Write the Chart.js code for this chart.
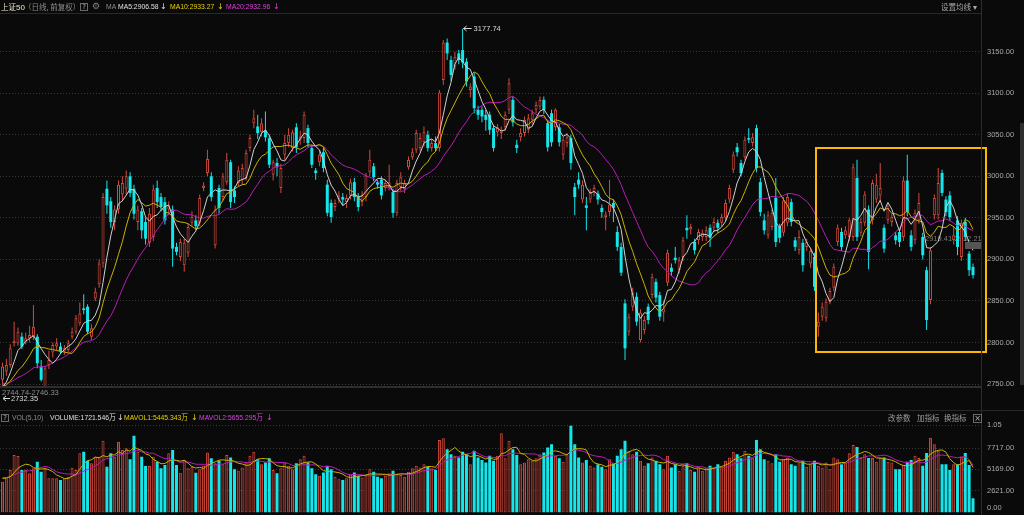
<!DOCTYPE html>
<html><head><meta charset="utf-8">
<title>上证50</title>
<script src="https://cdn.jsdelivr.net/npm/chart.js@4/dist/chart.umd.min.js"></script>
<style>
html,body{margin:0;padding:0;background:#0a0a0a;overflow:hidden}
body{width:1024px;height:515px;position:relative;font-family:"Liberation Sans","Noto Sans CJK SC",sans-serif}
canvas{position:absolute;left:0}
.t{position:absolute;white-space:nowrap;font-size:8px;line-height:10px;transform-origin:0 50%;transform:scaleX(0.85);font-family:"Liberation Sans","Noto Sans CJK SC",sans-serif}
.c{position:absolute;white-space:nowrap;font-family:"Noto Sans CJK SC",sans-serif;font-size:7.5px;line-height:10px}
.a{position:absolute;white-space:nowrap;font-family:"DejaVu Sans",sans-serif;font-size:8px;line-height:10px}
.ln{position:absolute;background:#282828}
.box{position:absolute;border:1px solid #6a6a6a;color:#b0b0b0;font-size:7px;line-height:7px;text-align:center;box-sizing:border-box;font-family:"DejaVu Sans",sans-serif}
</style></head><body>
<canvas id="pc" width="1024" height="405" style="top:0"></canvas>
<canvas id="vc" width="1024" height="115" style="top:410px"></canvas>

<div class="ln" style="left:0;top:13px;width:981px;height:1px"></div>
<div class="ln" style="left:981px;top:0;width:1px;height:515px;background:#2c2c2c"></div>
<div class="ln" style="left:0;top:386px;width:981px;height:2px;background:#2e2e2e"></div>
<div class="ln" style="left:0;top:410px;width:1024px;height:1px"></div>
<div class="ln" style="left:1020px;top:123px;width:4px;height:262px;background:#2e2e2e"></div>

<div class="c" style="left:1px;top:2px;color:#e8e4c8">上证<span style="font-family:'Liberation Sans';font-size:8px">50</span></div>
<div class="c" style="left:24px;top:2px;color:#8c8c8c">（日线, 前复权）</div>
<div class="box" style="left:80px;top:3px;width:8px;height:8px">?</div>
<div class="a" style="left:92px;top:1px;color:#808080;font-size:9px">⚙</div>
<div class="t" style="left:106px;top:2px;color:#8c8c8c">MA</div>
<div class="t" style="left:118px;top:2px;color:#e0e0e0">MA5:2906.58</div>
<div class="a" style="left:160px;top:2px;color:#e0e0e0">↓</div>
<div class="t" style="left:170px;top:2px;color:#e8d400">MA10:2933.27</div>
<div class="a" style="left:217px;top:2px;color:#e8d400">↓</div>
<div class="t" style="left:226px;top:2px;color:#e040e0">MA20:2932.96</div>
<div class="a" style="left:273px;top:2px;color:#e040e0">↓</div>
<div class="c" style="left:941px;top:2px;color:#a8a8a8">设置均线 ▾</div>

<div class="box" style="left:1px;top:414px;width:8px;height:8px">?</div>
<div class="t" style="left:12px;top:413px;color:#8c8c8c">VOL(5,10)</div>
<div class="t" style="left:50px;top:413px;color:#e0e0e0">VOLUME:1721.546万</div>
<div class="a" style="left:117px;top:413px;color:#e0e0e0">↓</div>
<div class="t" style="left:124px;top:413px;color:#e8d400">MAVOL1:5445.343万</div>
<div class="a" style="left:191px;top:413px;color:#e8d400">↓</div>
<div class="t" style="left:199px;top:413px;color:#e040e0">MAVOL2:5655.295万</div>
<div class="a" style="left:266px;top:413px;color:#e040e0">↓</div>
<div class="c" style="left:888px;top:413px;color:#9c9c9c">改参数</div>
<div class="c" style="left:917px;top:413px;color:#9c9c9c">加指标</div>
<div class="c" style="left:944px;top:413px;color:#9c9c9c">换指标</div>
<div class="box" style="left:973px;top:414px;width:9px;height:9px;font-size:8px;line-height:7px">×</div>

<script>
// ---------- data ----------
const priceTicks = [2750, 2800, 2850, 2900, 2950, 3000, 3050, 3100, 3150];
const volTicks = [2621, 5169, 7717, 10500];

const opens = [
2755,2765,2773,2799,2799,2807,2801,2805,2807,2807,
2771,2746,2773,2788,2795,2795,2789,2791,2807,2813,
2823,2841,2843,2807,2853,2870,2895,2985,2970,2945,
2960,2978,2985,3000,2985,2945,2958,2945,2920,2927,
2986,2975,2969,2960,2960,2915,2903,2893,2908,2944,
2947,2944,2986,3004,3000,2917,2986,2975,2993,3017,
2983,2992,2996,2998,3034,3064,3060,3053,3055,3046,
3002,3016,2986,3026,3040,3034,3059,3044,3046,3058,
3034,3007,3017,3029,2990,2968,2963,2972,2975,2969,
2977,2993,2975,2969,2975,3005,3012,2993,2996,2986,
2987,2981,2956,2987,2984,3011,3023,3032,3034,3041,
3050,3034,3040,3034,3116,3161,3140,3132,3148,3152,
3138,3104,3120,3080,3080,3074,3074,3058,3053,3052,
3059,3080,3092,3038,3047,3052,3056,3068,3080,3084,
3092,3064,3076,3059,3059,3026,3040,3046,2987,2996,
2972,2965,2972,2981,2979,2962,2951,2957,2968,2933,
2915,2847,2813,2843,2855,2803,2815,2843,2857,2873,
2857,2836,2872,2890,2902,2887,2903,2938,2936,2921,
2923,2927,2927,2938,2938,2944,2944,2950,2972,3008,
3035,3016,3023,3046,3040,3058,2993,2947,2929,2939,
2974,2939,2932,2944,2969,2923,2911,2920,2915,2895,
2903,2819,2831,2829,2850,2866,2921,2933,2929,2927,
2927,2998,2932,2944,2960,2947,2972,2977,2938,2947,
2945,2929,2933,2927,2995,2929,2923,2947,2927,2887,
2851,2953,2953,3004,2972,2977,2923,2947,2903,2945,
2907,2891];

const highs = [
2776,2780,2798,2825,2818,2812,2812,2820,2845,2810,
2779,2772,2790,2800,2805,2800,2797,2803,2818,2833,
2848,2858,2846,2822,2866,2900,2980,2995,2975,2965,
2995,3000,3007,3005,2990,2965,2962,2950,2962,2990,
2995,2980,2975,2970,2965,2920,2925,2925,2943,2958,
2953,2978,2993,3032,3005,2965,2990,3004,3028,3020,
2988,3012,3015,3032,3050,3080,3074,3070,3078,3050,
3020,3022,3015,3050,3058,3056,3064,3055,3078,3062,
3038,3010,3032,3034,2996,2972,2972,2982,2980,2978,
2997,2998,2980,2982,3004,3032,3016,2996,3000,2996,
3014,2985,2996,3005,2996,3024,3034,3056,3052,3060,
3055,3045,3048,3104,3164,3166,3145,3150,3152,3177.74,
3142,3112,3125,3085,3084,3080,3078,3062,3063,3060,
3078,3118,3096,3044,3058,3072,3075,3080,3090,3096,
3096,3068,3080,3082,3063,3048,3052,3050,2992,3005,
2995,2975,2985,2990,2983,2966,2958,2996,2972,2940,
2920,2852,2835,2866,2860,2840,2832,2847,2883,2877,
2861,2850,2912,2895,2915,2903,2927,2953,2943,2925,
2937,2936,2940,2942,2950,2948,2955,2972,2990,3030,
3040,3020,3048,3058,3052,3062,2998,2955,2958,2960,
2998,2943,2975,2980,2973,2927,2935,2925,2925,2914,
2908,2836,2848,2853,2866,2895,2942,2938,2940,2950,
3015,3020,2950,2982,2965,2996,3003,3016,2942,2966,
2955,2933,2937,3000,3026,2935,2960,2980,2932,2891,
2915,2978,3010,3008,2976,2982,2940,2952,2948,2950,
2910,2895];

const lows = [
2732.35,2760,2770,2795,2796,2792,2798,2800,2803,2769,
2753,2744,2768,2782,2790,2786,2785,2788,2804,2810,
2820,2834,2810,2803,2850,2866,2890,2955,2938,2935,
2955,2970,2978,2975,2948,2935,2925,2918,2915,2922,
2962,2958,2942,2953,2891,2905,2898,2885,2903,2940,
2935,2940,2982,3000,2970,2913,2955,2970,2990,2962,
2968,2988,2990,2995,3030,3058,3045,3048,3042,3010,
2995,3000,2980,3020,3035,3030,3028,3038,3040,3035,
3010,2996,3012,3005,2952,2944,2958,2968,2965,2962,
2972,2970,2958,2964,2970,3000,2994,2985,2972,2982,
2983,2950,2952,2982,2980,3008,3020,3028,3030,3036,
3030,3030,3030,3030,3110,3140,3115,3128,3135,3130,
3108,3095,3076,3068,3065,3055,3050,3030,3048,3045,
3055,3075,3060,3028,3042,3048,3052,3062,3076,3080,
3075,3030,3036,3055,3036,3020,3035,3008,2953,2985,
2968,2935,2968,2976,2966,2950,2935,2952,2945,2910,
2880,2779,2808,2838,2820,2800,2810,2822,2853,2848,
2826,2825,2868,2880,2895,2883,2898,2925,2930,2906,
2918,2922,2922,2915,2933,2932,2940,2946,2968,3004,
3024,3000,3020,3040,3036,3005,2952,2930,2925,2935,
2915,2920,2928,2940,2940,2910,2906,2885,2910,2890,
2862,2807,2826,2825,2846,2862,2916,2910,2925,2922,
2922,2922,2928,2940,2888,2942,2968,2970,2908,2943,
2940,2918,2915,2922,2952,2910,2918,2943,2900,2815,
2846,2948,2948,2976,2952,2946,2918,2905,2898,2922,
2880,2877];

const closes = [
2771,2773,2793,2802,2813,2795,2805,2809,2819,2775,
2755,2769,2779,2797,2799,2789,2793,2799,2813,2829,
2835,2839,2813,2817,2861,2895,2975,2965,2945,2960,
2990,2992,3000,2980,2955,2960,2935,2925,2955,2984,
2969,2963,2947,2964,2913,2909,2921,2920,2939,2951,
2940,2974,2989,3021,2975,2960,2962,3000,3020,2969,
2975,3007,3010,3028,3046,3070,3052,3064,3047,3014,
3017,3011,3010,3040,3050,3053,3035,3048,3074,3040,
3014,3004,3026,3010,2956,2951,2968,2977,2972,2974,
2993,2975,2963,2977,3001,3020,2999,2990,2977,2992,
2993,2956,2992,2999,2992,3020,3029,3052,3046,3053,
3034,3040,3034,3101,3161,3148,3122,3144,3140,3137,
3114,3108,3082,3074,3072,3068,3056,3034,3059,3056,
3074,3112,3065,3034,3052,3068,3070,3076,3086,3092,
3080,3035,3041,3080,3041,3044,3047,3016,2975,2990,
2990,2962,2981,2986,2972,2957,2954,2966,2962,2915,
2884,2793,2831,2860,2825,2836,2827,2827,2879,2854,
2831,2841,2908,2885,2899,2899,2923,2935,2939,2911,
2933,2932,2935,2926,2945,2938,2951,2968,2986,3026,
3029,3004,3044,3044,3047,3010,2957,2935,2953,2956,
2921,2926,2971,2975,2945,2915,2927,2893,2921,2910,
2867,2825,2843,2849,2862,2891,2938,2915,2935,2947,
3011,2927,2945,2978,2909,2992,2990,2986,2913,2962,
2951,2923,2921,2995,2957,2915,2956,2968,2905,2827,
2911,2974,2992,2980,2957,2951,2929,2915,2944,2927,
2887,2881];

// volume in 万
const volumes = [
3700,4100,5100,6900,6780,5100,5100,4700,5300,6100,
4900,5300,4100,4100,4100,3900,4100,4300,5380,5100,
7100,7300,6220,5900,6700,6700,8620,5500,7100,6700,
8500,7500,7700,6380,9220,7300,6700,5580,5580,6700,
6100,5300,5700,7100,7500,5700,4780,6300,5300,5500,
4780,5200,5600,7200,6500,5900,6200,5800,6900,6600,
5200,5000,5400,6100,6800,7300,6400,5800,6000,6500,
5100,4700,5300,6000,5600,5200,5900,6400,6800,6000,
5300,4600,4400,4800,5600,5200,4300,4000,3900,4100,
4600,4800,4400,4200,4500,5200,4900,4300,4100,4400,
4700,5000,4600,4500,4300,4900,5300,5600,5400,5800,
5500,5300,5100,8700,8900,7600,7000,6800,6600,7300,
7000,5800,7400,6600,6300,6000,6800,6200,6800,9500,
6500,8600,7600,6900,5800,6000,6400,6200,6500,7000,
7200,7800,8200,6800,6500,6100,7000,10400,8200,6600,
6000,6300,5600,5400,5800,5500,5200,6400,5900,6800,
7600,8600,7400,7000,7300,6200,5600,5900,6600,6200,
5800,5200,6800,5400,5800,5000,5600,5900,5100,4900,
5300,5000,5300,5600,5400,5800,5500,6200,6600,7300,
7000,6500,7400,6800,6600,8700,7600,6400,6200,5900,
7000,6100,6400,6600,5800,5600,5900,6200,5500,5800,
6200,5600,5400,6000,5200,6600,6400,5800,6000,7100,
8100,7860,6540,7000,6540,6540,6100,6540,6600,6100,
6000,5200,5200,5700,6100,6300,6800,6540,5600,7140,
8980,8200,7400,5800,5800,5100,5800,5800,6700,7140,
5700,1721.546];

// sessions just before the first visible one (estimated from where the MA lines start)
const prevCloses = [2768,2760,2752,2748,2755,2750,2744,2746,2752,2760,2755,2748,2740,2745,2751,2742,2738,2735,2745];
const prevVolumes = [4200,3900,4500,4800,4100,3800,4300,4600,4000];

// ---------- helpers ----------
function movingAvg(src, prev, n) {
  const all = prev.concat(src), off = prev.length;
  return src.map((_, i) => {
    let s = 0, c = 0;
    for (let k = Math.max(0, i + off - n + 1); k <= i + off; k++) { s += all[k]; c++; }
    return s / c;
  });
}
const N = closes.length;
const idx = [...Array(N).keys()];
const isUp = idx.map(i => closes[i] >= opens[i]);
const ma5 = movingAvg(closes, prevCloses, 5);
const ma10 = movingAvg(closes, prevCloses, 10);
const ma20 = movingAvg(closes, prevCloses, 20);
const mav5 = movingAvg(volumes, prevVolumes, 5);
const mav10 = movingAvg(volumes, prevVolumes, 10);

const RED = '#d44a3c', CYAN = '#14e6ea', BG = '#0a0a0a';
const X_MIN = -0.647, X_MAX = 253.07;
const FONT = '7.5px "Liberation Sans"';
const axisFont = {family: '"Liberation Sans"', size: 7.5};

const pricePlugin = {
  id: 'pricePlugin',
  beforeDatasetsDraw(chart) {
    const ctx = chart.ctx;
    ctx.save();
    ctx.font = FONT; ctx.fillStyle = '#7c7c7c'; ctx.textBaseline = 'middle';
    ctx.fillText('2919.41-2932.21', 925, 239);
    ctx.restore();
  },
  afterDatasetsDraw(chart) {
    const {ctx, scales: {x, y}, chartArea} = chart;
    ctx.save();
    ctx.font = FONT; ctx.textBaseline = 'middle';
    let mi = 0; highs.forEach((h, i) => { if (h > highs[mi]) mi = i; });
    let px = x.getPixelForValue(mi) + 1, py = Math.round(y.getPixelForValue(highs[mi])) - 0.5;
    ctx.strokeStyle = '#d8d8d8'; ctx.fillStyle = '#d8d8d8'; ctx.lineWidth = 1;
    ctx.beginPath(); ctx.moveTo(px, py); ctx.lineTo(px + 8, py);
    ctx.moveTo(px, py); ctx.lineTo(px + 3, py - 2.5); ctx.moveTo(px, py); ctx.lineTo(px + 3, py + 2.5); ctx.stroke();
    ctx.fillText(highs[mi].toFixed(2), px + 10, py);
    let li = 0; lows.forEach((l, i) => { if (l < lows[li]) li = i; });
    px = x.getPixelForValue(li) + 0.5; py = chartArea.bottom + 11.5;
    ctx.beginPath(); ctx.moveTo(px, py); ctx.lineTo(px + 7, py);
    ctx.moveTo(px, py); ctx.lineTo(px + 3, py - 2.5); ctx.moveTo(px, py); ctx.lineTo(px + 3, py + 2.5); ctx.stroke();
    ctx.fillText(lows[li].toFixed(2), px + 8, py);
    ctx.fillStyle = '#8c8c8c';
    ctx.fillText('2744.74-2746.33', 2, chartArea.bottom + 5.5);
    ctx.fillStyle = '#555555'; ctx.fillRect(965, 242, 16, 7);
    ctx.strokeStyle = '#fcb900'; ctx.lineWidth = 2;
    ctx.strokeRect(816, 148, 170, 204);
    ctx.restore();
  }
};

const volPlugin = {
  id: 'volPlugin',
  afterDraw(chart) {
    const ctx = chart.ctx;
    ctx.save();
    ctx.font = FONT; ctx.fillStyle = '#a8a8a8'; ctx.textBaseline = 'middle';
    ctx.fillText('0.00', 987, 98);
    ctx.restore();
  }
};

const barCommon = {grouped: false, barPercentage: 1, categoryPercentage: 1, inflateAmount: 0, clip: 0};
const lineCommon = {type: 'line', borderWidth: 1, pointRadius: 0, tension: 0, order: 0, clip: 0};

new Chart(document.getElementById('pc'), {
  type: 'bar',
  data: {datasets: [
    Object.assign({data: idx.map(i => ({x: i, y: ma5[i]})), borderColor: '#d0d0d0'}, lineCommon),
    Object.assign({data: idx.map(i => ({x: i, y: ma10[i]})), borderColor: '#c8b400'}, lineCommon),
    Object.assign({data: idx.map(i => ({x: i, y: ma20[i]})), borderColor: '#b81cb8'}, lineCommon),
    Object.assign({
      data: idx.map(i => ({x: i, y: [opens[i], closes[i]]})),
      backgroundColor: idx.map(i => isUp[i] ? BG : CYAN),
      borderColor: idx.map(i => isUp[i] ? RED : CYAN),
      borderWidth: idx.map(i => isUp[i] ? 1 : 0),
      borderSkipped: false, maxBarThickness: 3, minBarLength: 1, order: 2
    }, barCommon),
    Object.assign({
      data: idx.map(i => ({x: i, y: [lows[i], highs[i]]})),
      backgroundColor: idx.map(i => isUp[i] ? RED : CYAN),
      borderWidth: 0, maxBarThickness: 1, order: 3
    }, barCommon)
  ]},
  options: {
    responsive: false, animation: false, events: [],
    layout: {padding: {left: 0, right: 0, top: 14, bottom: 18}},
    plugins: {legend: {display: false}, tooltip: {enabled: false}},
    scales: {
      x: {type: 'linear', min: X_MIN, max: X_MAX, display: false, offset: false},
      y: {
        position: 'right', min: 2746.39, max: 3195.4,
        afterBuildTicks: s => { s.ticks = priceTicks.map(v => ({value: v})); },
        afterFit: s => { s.width = 43; },
        ticks: {callback: v => Number(v).toFixed(2), color: '#a8a8a8', font: axisFont, padding: 6},
        grid: {color: '#3a3a3a', drawTicks: false},
        border: {display: false, dash: [1, 2]}
      }
    }
  },
  plugins: [pricePlugin]
});

new Chart(document.getElementById('vc'), {
  type: 'bar',
  data: {datasets: [
    Object.assign({data: idx.map(i => ({x: i, y: mav5[i]})), borderColor: '#c8b400'}, lineCommon),
    Object.assign({data: idx.map(i => ({x: i, y: mav10[i]})), borderColor: '#b81cb8'}, lineCommon),
    Object.assign({
      data: idx.map(i => ({x: i, y: volumes[i]})),
      backgroundColor: idx.map(i => isUp[i] ? '#5a1e1a' : CYAN),
      borderColor: idx.map(i => isUp[i] ? RED : CYAN),
      borderWidth: idx.map(i => isUp[i] ? 1 : 0),
      borderSkipped: false, maxBarThickness: 3, order: 2
    }, barCommon)
  ]},
  options: {
    responsive: false, animation: false, events: [],
    layout: {padding: {left: 0, right: 0, top: 15, bottom: 12.5}},
    plugins: {legend: {display: false}, tooltip: {enabled: false}},
    scales: {
      x: {type: 'linear', min: X_MIN, max: X_MAX, display: false, offset: false},
      y: {
        position: 'right', min: 0, max: 10500,
        afterBuildTicks: s => { s.ticks = volTicks.map(v => ({value: v})); },
        afterFit: s => { s.width = 43; },
        ticks: {callback: v => v >= 10000 ? (v / 10000).toFixed(2) : Number(v).toFixed(2), color: '#a8a8a8', font: axisFont, padding: 6},
        grid: {color: '#3a3a3a', drawTicks: false},
        border: {display: false, dash: [1, 2]}
      }
    }
  },
  plugins: [volPlugin]
});
</script>
</body></html>
